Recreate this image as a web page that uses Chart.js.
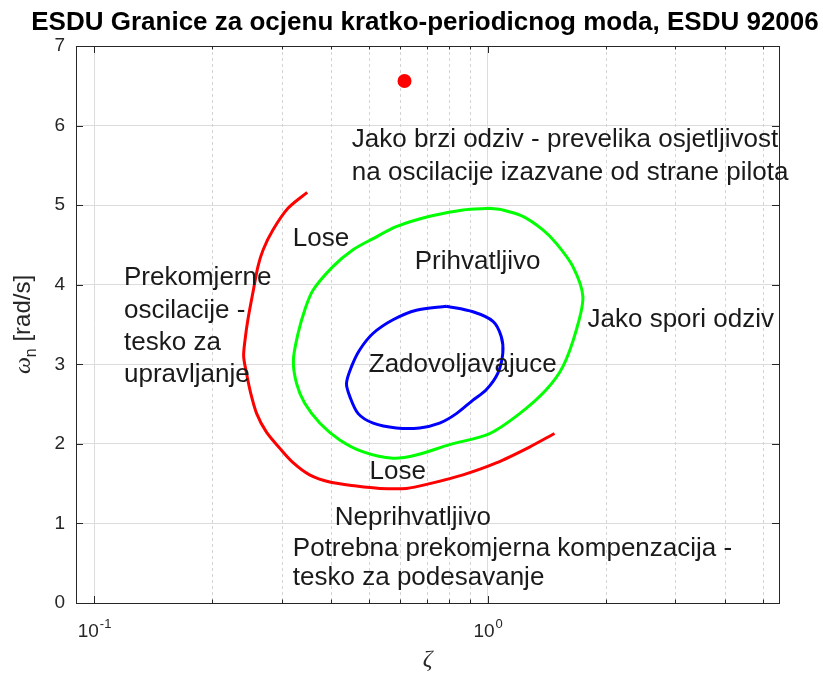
<!DOCTYPE html>
<html>
<head>
<meta charset="utf-8">
<script src="https://cdn.jsdelivr.net/npm/chart.js@4.4.1/dist/chart.umd.min.js"></script>
<style>
  html, body { margin: 0; padding: 0; background: #ffffff; }
  #wrap { width: 823px; height: 675px; }
</style>
</head>
<body>
<div id="wrap"><canvas id="c" width="823" height="675"></canvas></div>
<script>
// ESDU 92006 short-period mode boundaries: damping ratio zeta vs natural frequency omega_n
const redZeta  = [0.348, 0.311, 0.285, 0.269, 0.261, 0.254, 0.246, 0.242, 0.240, 0.244, 0.250, 0.259, 0.274,
                  0.297, 0.321, 0.353, 0.397, 0.464, 0.532, 0.622, 0.713, 0.866, 1.052, 1.278, 1.479];
const redOmega = [5.16, 4.96, 4.69, 4.44, 4.23, 3.93, 3.56, 3.31, 3.10, 2.89, 2.64, 2.38, 2.15,
                  1.94, 1.76, 1.61, 1.52, 1.47, 1.44, 1.44, 1.50, 1.61, 1.76, 1.96, 2.13];

const greenZeta  = [1.012, 1.093, 1.229, 1.382, 1.494, 1.646, 1.746, 1.680, 1.553, 1.409, 1.206, 1.012, 0.801,
                    0.659, 0.575, 0.483, 0.421, 0.375, 0.343, 0.327, 0.321, 0.330, 0.343, 0.360, 0.405, 0.455,
                    0.512, 0.586, 0.713, 0.866, 1.012];
const greenOmega = [4.96, 4.94, 4.86, 4.69, 4.52, 4.23, 3.85, 3.43, 2.97, 2.68, 2.38, 2.13, 1.99,
                    1.86, 1.82, 1.90, 2.05, 2.26, 2.51, 2.76, 3.05, 3.39, 3.68, 3.93, 4.23, 4.44,
                    4.58, 4.73, 4.86, 4.94, 4.96];

const blueZeta  = [0.786, 0.918, 1.032, 1.083, 1.093, 1.062, 0.992, 0.918, 0.833, 0.755, 0.672, 0.586,
                   0.512, 0.469, 0.447, 0.438, 0.451, 0.473, 0.512, 0.575, 0.659, 0.786];
const blueOmega = [3.73, 3.66, 3.54, 3.35, 3.14, 2.89, 2.68, 2.55, 2.38, 2.26, 2.20, 2.20,
                   2.26, 2.38, 2.59, 2.76, 2.97, 3.18, 3.39, 3.56, 3.68, 3.73];

const pointZeta  = [0.615];
const pointOmega = [6.56];

// axis limits and ticks
const zetaMin = 0.09, zetaMax = 5.5;
const omegaMin = 0, omegaMax = 7;
const zetaMajor = [0.1, 1];
const zetaMajorLabels = [["10", "-1"], ["10", "0"]];
const zetaMinor = [0.2, 0.3, 0.4, 0.5, 0.6, 0.7, 0.8, 0.9, 2, 3, 4, 5];
const omegaTicks = [0, 1, 2, 3, 4, 5, 6, 7];

// region annotations (left edge, vertical middle)
const noteText = [
  "Jako brzi odziv - prevelika osjetljivost",
  "na oscilacije izazvane od strane pilota",
  "Lose",
  "Prihvatljivo",
  "Prekomjerne",
  "oscilacije -",
  "tesko za",
  "upravljanje",
  "Jako spori odziv",
  "Zadovoljavajuce",
  "Lose",
  "Neprihvatljivo",
  "Potrebna prekomjerna kompenzacija -",
  "tesko za podesavanje"
];
const noteZeta  = [0.452, 0.452, 0.320, 0.653, 0.1192, 0.1192, 0.1192, 0.1192, 1.794, 0.499, 0.501, 0.409, 0.320, 0.320];
const noteOmega = [5.82, 5.40, 4.575, 4.285, 4.085, 3.67, 3.268, 2.865, 3.557, 2.99, 1.646, 1.068, 0.679, 0.314];

const toPts = (xs, ys) => xs.map((x, i) => ({ x: x, y: ys[i] }));

const AXIS_COLOR = '#262626';
const SANS = '"Liberation Sans", Arial, Helvetica, sans-serif';

const framePlugin = {
  id: 'matlabFrame',
  beforeDatasetsDraw(chart) {
    const { ctx, chartArea: a, scales: { x } } = chart;
    ctx.save();
    ctx.strokeStyle = '#d4d4d4';
    ctx.lineWidth = 1;
    ctx.setLineDash([3, 3]);
    zetaMinor.forEach(v => {
      const px = Math.round(x.getPixelForValue(v)) + 0.5;
      ctx.beginPath();
      ctx.moveTo(px, a.top);
      ctx.lineTo(px, a.bottom);
      ctx.stroke();
    });
    ctx.restore();
  },
  afterDatasetsDraw(chart) {
    const { ctx, chartArea: a, scales: { x, y } } = chart;
    ctx.save();
    ctx.strokeStyle = AXIS_COLOR;
    ctx.lineWidth = 1;
    ctx.setLineDash([]);
    // box
    ctx.strokeRect(Math.round(a.left) + 0.5, Math.round(a.top) + 0.5,
                   Math.round(a.right - a.left), Math.round(a.bottom - a.top));
    // inward tick marks
    const tick = (x0, y0, x1, y1) => { ctx.beginPath(); ctx.moveTo(x0, y0); ctx.lineTo(x1, y1); ctx.stroke(); };
    zetaMajor.forEach(v => {
      const px = Math.round(x.getPixelForValue(v)) + 0.5;
      tick(px, a.bottom, px, a.bottom - 7);
      tick(px, a.top, px, a.top + 7);
    });
    zetaMinor.forEach(v => {
      const px = Math.round(x.getPixelForValue(v)) + 0.5;
      tick(px, a.bottom, px, a.bottom - 3.5);
      tick(px, a.top, px, a.top + 3.5);
    });
    omegaTicks.forEach(v => {
      const py = Math.round(y.getPixelForValue(v)) + 0.5;
      tick(a.left, py, a.left + 7, py);
      tick(a.right, py, a.right - 7, py);
    });

    // x tick labels with exponents
    ctx.fillStyle = AXIS_COLOR;
    ctx.textBaseline = 'alphabetic';
    ctx.textAlign = 'left';
    zetaMajor.forEach((v, i) => {
      const [base, exp] = zetaMajorLabels[i];
      ctx.font = '19px ' + SANS;
      const wb = ctx.measureText(base).width;
      ctx.font = '13px ' + SANS;
      const we = ctx.measureText(exp).width;
      const cx = x.getPixelForValue(v);
      const left = cx - (wb + we) / 2;
      ctx.font = '19px ' + SANS;
      ctx.fillText(base, left, a.bottom + 34);
      ctx.font = '13px ' + SANS;
      ctx.fillText(exp, left + wb + 1, a.bottom + 25);
    });

    // x axis label
    ctx.textAlign = 'center';
    ctx.textBaseline = 'middle';
    ctx.font = 'italic 24px "Liberation Serif", "DejaVu Serif", serif';
    ctx.fillText('ζ', (a.left + a.right) / 2, 660);

    // y axis label, rotated
    ctx.save();
    ctx.translate(22, (a.top + a.bottom) / 2);
    ctx.rotate(-Math.PI / 2);
    ctx.textBaseline = 'alphabetic';
    ctx.textAlign = 'left';
    ctx.font = 'italic 24px "Liberation Serif", "DejaVu Serif", serif';
    const wOm = ctx.measureText('ω').width;
    ctx.font = '16px ' + SANS;
    const wN = ctx.measureText('n').width;
    ctx.font = '24px ' + SANS;
    const wRest = ctx.measureText(' [rad/s]').width;
    let sx = -(wOm + wN + wRest) / 2;
    ctx.font = 'italic 24px "Liberation Serif", "DejaVu Serif", serif';
    ctx.fillText('ω', sx, 8);
    sx += wOm;
    ctx.font = '16px ' + SANS;
    ctx.fillText('n', sx, 14);
    sx += wN;
    ctx.font = '24px ' + SANS;
    ctx.fillText(' [rad/s]', sx, 8);
    ctx.restore();

    // title
    ctx.fillStyle = '#000000';
    ctx.textAlign = 'center';
    ctx.textBaseline = 'middle';
    ctx.font = 'bold 26px ' + SANS;
    ctx.fillText('ESDU Granice za ocjenu kratko-periodicnog moda, ESDU 92006', 425, 23);

    // region annotations
    ctx.fillStyle = '#1a1a1a';
    ctx.textAlign = 'left';
    ctx.textBaseline = 'middle';
    ctx.font = '26px ' + SANS;
    noteText.forEach((t, i) => {
      ctx.fillText(t, x.getPixelForValue(noteZeta[i]), y.getPixelForValue(noteOmega[i]));
    });
    ctx.restore();
  }
};

const lineDs = (pts, color) => ({
  data: pts,
  showLine: true,
  borderColor: color,
  backgroundColor: color,
  borderWidth: 3,
  pointRadius: 0,
  pointHoverRadius: 0,
  tension: 0.3,
  fill: false
});

new Chart(document.getElementById('c'), {
  type: 'scatter',
  data: {
    datasets: [
      lineDs(toPts(redZeta, redOmega), '#ff0000'),
      lineDs(toPts(greenZeta, greenOmega), '#00ff00'),
      lineDs(toPts(blueZeta, blueOmega), '#0000ff'),
      {
        data: toPts(pointZeta, pointOmega),
        showLine: false,
        pointRadius: 7,
        pointHoverRadius: 7,
        pointBorderWidth: 0,
        backgroundColor: '#ff0000',
        borderColor: '#ff0000'
      }
    ]
  },
  options: {
    responsive: false,
    animation: false,
    events: [],
    layout: { padding: { top: 46, right: 44, left: 0, bottom: 0 } },
    plugins: {
      legend: { display: false },
      title: { display: false },
      tooltip: { enabled: false }
    },
    scales: {
      x: {
        type: 'logarithmic',
        min: zetaMin,
        max: zetaMax,
        afterBuildTicks: (s) => { s.ticks = zetaMajor.map(v => ({ value: v })); },
        afterFit: (s) => { s.height = 72; },
        ticks: { display: false },
        grid: { color: '#dcdcdc', lineWidth: 1, drawTicks: false },
        border: { display: false }
      },
      y: {
        type: 'linear',
        min: omegaMin,
        max: omegaMax,
        afterBuildTicks: (s) => { s.ticks = omegaTicks.map(v => ({ value: v })); },
        afterFit: (s) => { s.width = 76; },
        ticks: {
          color: AXIS_COLOR,
          padding: 11,
          font: { family: SANS, size: 19 }
        },
        grid: { color: '#dcdcdc', lineWidth: 1, drawTicks: false },
        border: { display: false }
      }
    }
  },
  plugins: [framePlugin]
});
</script>
</body>
</html>
